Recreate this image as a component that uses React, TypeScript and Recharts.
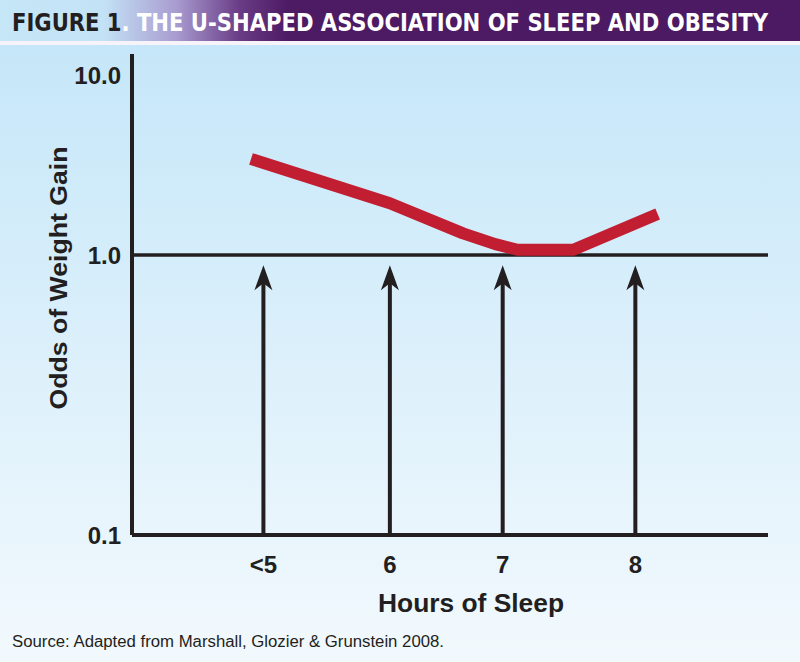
import React from "react";
import {
  ComposedChart,
  Line,
  XAxis,
  YAxis,
  ReferenceLine,
} from "recharts";

// hours of sleep, placed on a numeric axis (<5 sits at 5)
const HOUR_TICKS = [5, 6.02, 6.93, 8];
const HOUR_LABELS = ["<5", "6", "7", "8"];
const HOUR_DOMAIN = [3.94, 9.07];

// odds of weight gain
const CURVE_HOURS = [4.9, 6.02, 6.61, 6.87, 7.05, 7.5, 8.18];
const CURVE_ODDS = [3.42, 1.94, 1.32, 1.15, 1.07, 1.07, 1.69];

const ODDS_TICKS = [0.1, 1, 10];
const ODDS_LABELS = ["0.1", "1.0", "10.0"];
const ODDS_TOP = 13.1;
const ARROW_TIP = 0.92;

// the printed axis gives the 1–10 decade less room than the 0.1–1 decade
const UPPER_DECADE = 180 / 280;
const toAxis = (v: number) =>
  v >= 1 ? Math.log10(v) * UPPER_DECADE : Math.log10(v);

const curveData = CURVE_HOURS.map((h, i) => ({ hours: h, pos: toAxis(CURVE_ODDS[i]) }));
const baselineData = HOUR_DOMAIN.map((h) => ({ hours: h, pos: toAxis(1) }));

const INK = "#231f20";
const RED = "#c21e32";
const FONT = "'Liberation Sans', Arial, Helvetica, sans-serif";
const NARROW = "'DejaVu Sans Condensed', 'Liberation Sans', sans-serif";

function Arrow(props: any) {
  const { x1, y1, x2, y2 } = props;
  const x = x1;
  const top = Math.min(y1, y2);
  const bottom = Math.max(y1, y2);
  return (
    <g>
      <line x1={x} y1={bottom} x2={x} y2={top + 14} stroke={INK} strokeWidth={4} />
      <path
        d={`M${x},${top} L${x + 9},${top + 25} L${x},${top + 18} L${x - 9},${top + 25} Z`}
        fill={INK}
      />
    </g>
  );
}

export default function App() {
  const tickStyle = { fontSize: 24, fontWeight: 700, fill: INK, fontFamily: FONT };
  return (
    <div
      style={{
        position: "absolute",
        left: 0,
        top: 0,
        width: 800,
        height: 662,
        overflow: "hidden",
        background: "linear-gradient(to bottom, #c3e5f8 0px, #c6e7f9 50px, #f2f9fd 662px)",
      }}
    >
      <ComposedChart
        width={800}
        height={662}
        margin={{ top: 54, right: 32, bottom: 67, left: 72 }}
        style={{ position: "absolute", left: 0, top: 0 }}
      >
        <XAxis
          type="number"
          dataKey="hours"
          domain={HOUR_DOMAIN}
          ticks={HOUR_TICKS}
          interval={0}
          allowDataOverflow
          height={60}
          tickSize={0}
          tickMargin={21}
          tickFormatter={(v: number) => HOUR_LABELS[HOUR_TICKS.indexOf(v)] ?? ""}
          tick={tickStyle}
          axisLine={{ stroke: INK, strokeWidth: 4 }}
        />
        <YAxis
          type="number"
          dataKey="pos"
          domain={[toAxis(0.1), toAxis(ODDS_TOP)]}
          ticks={ODDS_TICKS.map(toAxis)}
          interval={0}
          allowDataOverflow
          width={60}
          tickSize={0}
          tickMargin={11}
          tickFormatter={(v: number) => {
            const i = ODDS_TICKS.findIndex((t) => Math.abs(toAxis(t) - v) < 1e-6);
            return i >= 0 ? ODDS_LABELS[i] : "";
          }}
          tick={tickStyle}
          axisLine={{ stroke: INK, strokeWidth: 4 }}
        />
        {HOUR_TICKS.map((h) => (
          <ReferenceLine
            key={h}
            segment={[
              { x: h, y: toAxis(0.1) },
              { x: h, y: toAxis(ARROW_TIP) },
            ]}
            shape={Arrow}
          />
        ))}
        <Line
          data={baselineData}
          dataKey="pos"
          type="linear"
          stroke={INK}
          strokeWidth={3.5}
          dot={false}
          activeDot={false}
          isAnimationActive={false}
        />
        <Line
          data={curveData}
          dataKey="pos"
          type="linear"
          stroke={RED}
          strokeWidth={12}
          strokeLinejoin="round"
          dot={false}
          activeDot={false}
          isAnimationActive={false}
        />
      </ComposedChart>

      <svg
        width={800}
        height={662}
        style={{ position: "absolute", left: 0, top: 0, pointerEvents: "none" }}
      >
        <defs>
          <linearGradient id="bandGradient" x1="0" y1="0" x2="1" y2="0">
            <stop offset="0%" stopColor="#c6e7f8" />
            <stop offset="13%" stopColor="#c3e2f6" />
            <stop offset="22%" stopColor="#a99cd0" />
            <stop offset="30%" stopColor="#6a3b86" />
            <stop offset="36%" stopColor="#4d1b64" />
            <stop offset="100%" stopColor="#4b1a62" />
          </linearGradient>
        </defs>
        <rect x={0} y={0} width={800} height={41} fill="url(#bandGradient)" />
        <rect x={0} y={41} width={800} height={4} fill="#f6f4fa" />
        <g transform="translate(12,31) scale(1,1.2)">
          <text
            x={0}
            y={0}
            textLength={756}
            lengthAdjust="spacingAndGlyphs"
            fontFamily={NARROW}
            fontWeight={700}
            fontSize={20}
          >
            <tspan fill={INK}>FIGURE 1</tspan>
            <tspan fill="#ffffff">. THE U-SHAPED ASSOCIATION OF SLEEP AND OBESITY</tspan>
          </text>
        </g>

        <text
          transform="translate(67,278) rotate(-90)"
          textAnchor="middle"
          textLength={263}
          lengthAdjust="spacingAndGlyphs"
          fontFamily={FONT}
          fontWeight={700}
          fontSize={24}
          fill={INK}
        >
          Odds of Weight Gain
        </text>

        <text
          x={471}
          y={612}
          textAnchor="middle"
          textLength={186}
          lengthAdjust="spacingAndGlyphs"
          fontFamily={FONT}
          fontWeight={700}
          fontSize={25}
          fill={INK}
        >
          Hours of Sleep
        </text>

        <text
          x={12}
          y={647}
          textLength={432}
          lengthAdjust="spacingAndGlyphs"
          fontFamily={FONT}
          fontSize={16}
          fill={INK}
        >
          Source: Adapted from Marshall, Glozier &amp; Grunstein 2008.
        </text>
      </svg>
    </div>
  );
}
